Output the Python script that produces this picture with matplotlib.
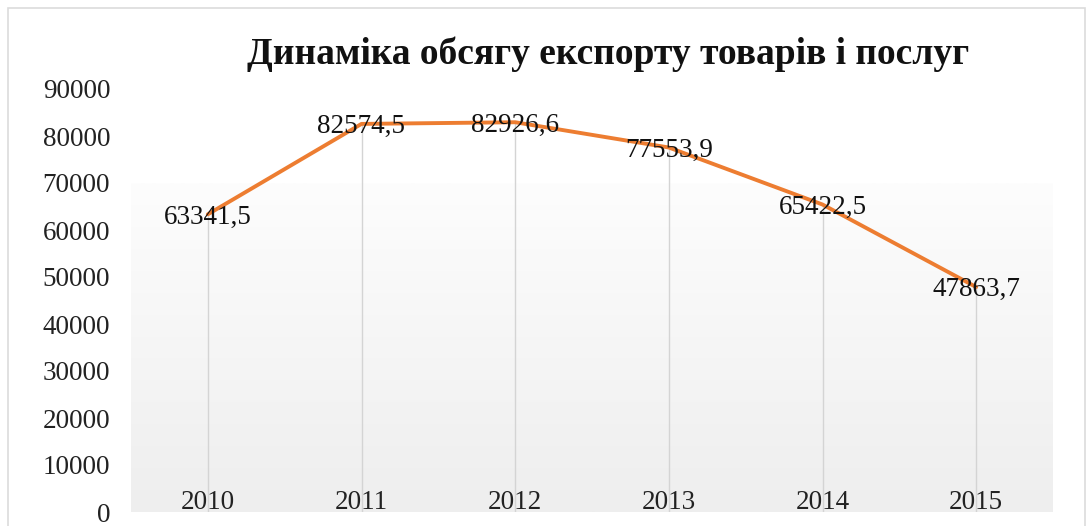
import numpy as np
import matplotlib
matplotlib.use("Agg")
import matplotlib.pyplot as plt
from matplotlib.colors import LinearSegmentedColormap
from matplotlib.patches import Rectangle

years = ["2010", "2011", "2012", "2013", "2014", "2015"]
export_volume = [63341.5, 82574.5, 82926.6, 77553.9, 65422.5, 47863.7]
y_ticks = [0, 10000, 20000, 30000, 40000, 50000, 60000, 70000, 80000, 90000]
title = "Динаміка обсягу експорту товарів і послуг"

plt.rcParams['font.family'] = ['Liberation Serif', 'DejaVu Serif']

fig = plt.figure(figsize=(10.91, 5.26), dpi=100)
W, H = 1091, 526

#outer chart frame
fig.patches.append(Rectangle((8 / W, -0.05), 1077 / W, 1.05 - 8 / H,
                             transform=fig.transFigure, fill=False,
                             edgecolor="#dcdcdc", linewidth=1.2))

ax = fig.add_axes([131 / W, 14 / H, 922 / W, 423 / H])
ax.set_xlim(-0.5, 5.5)
ax.set_ylim(0, 90000)
for s in ax.spines.values():
    s.set_visible(False)

x = np.arange(len(years))

#plot area gradient fill
grad = LinearSegmentedColormap.from_list("g", ["#eeeeee", "#fdfdfd"])
ax.imshow(np.linspace(0, 1, 256).reshape(-1, 1), cmap=grad, origin="lower",
          extent=[-0.5, 5.5, 0, 70000], aspect="auto", zorder=0)

#drop lines
ax.vlines(x, 0, export_volume, color="#d4d4d4", linewidth=1, zorder=1)

ax.plot(x, export_volume, color="#ED7D31", linewidth=2.8,
        solid_capstyle="round", zorder=2)

for xi, v in zip(x, export_volume):
    ax.annotate(f"{v:.1f}".replace(".", ","), (xi, v), xytext=(0, -2),
                textcoords="offset points", ha="center", va="center",
                fontsize=19.5, color="#111111", zorder=3)

ax.set_yticks(y_ticks)
ax.set_yticklabels([str(t) for t in y_ticks], fontsize=19.5, color="#222222")
ax.set_xticks(x)
ax.set_xticklabels(years, fontsize=19.5, color="#222222")
ax.tick_params(axis="y", length=0, pad=15)
ax.tick_params(axis="x", length=0, pad=-16)

fig.text(608 / W, 1 - 54 / H, title, ha="center", va="center",
         fontsize=27, fontweight="bold", color="#111111")

fig.savefig("out.png", dpi=100)
